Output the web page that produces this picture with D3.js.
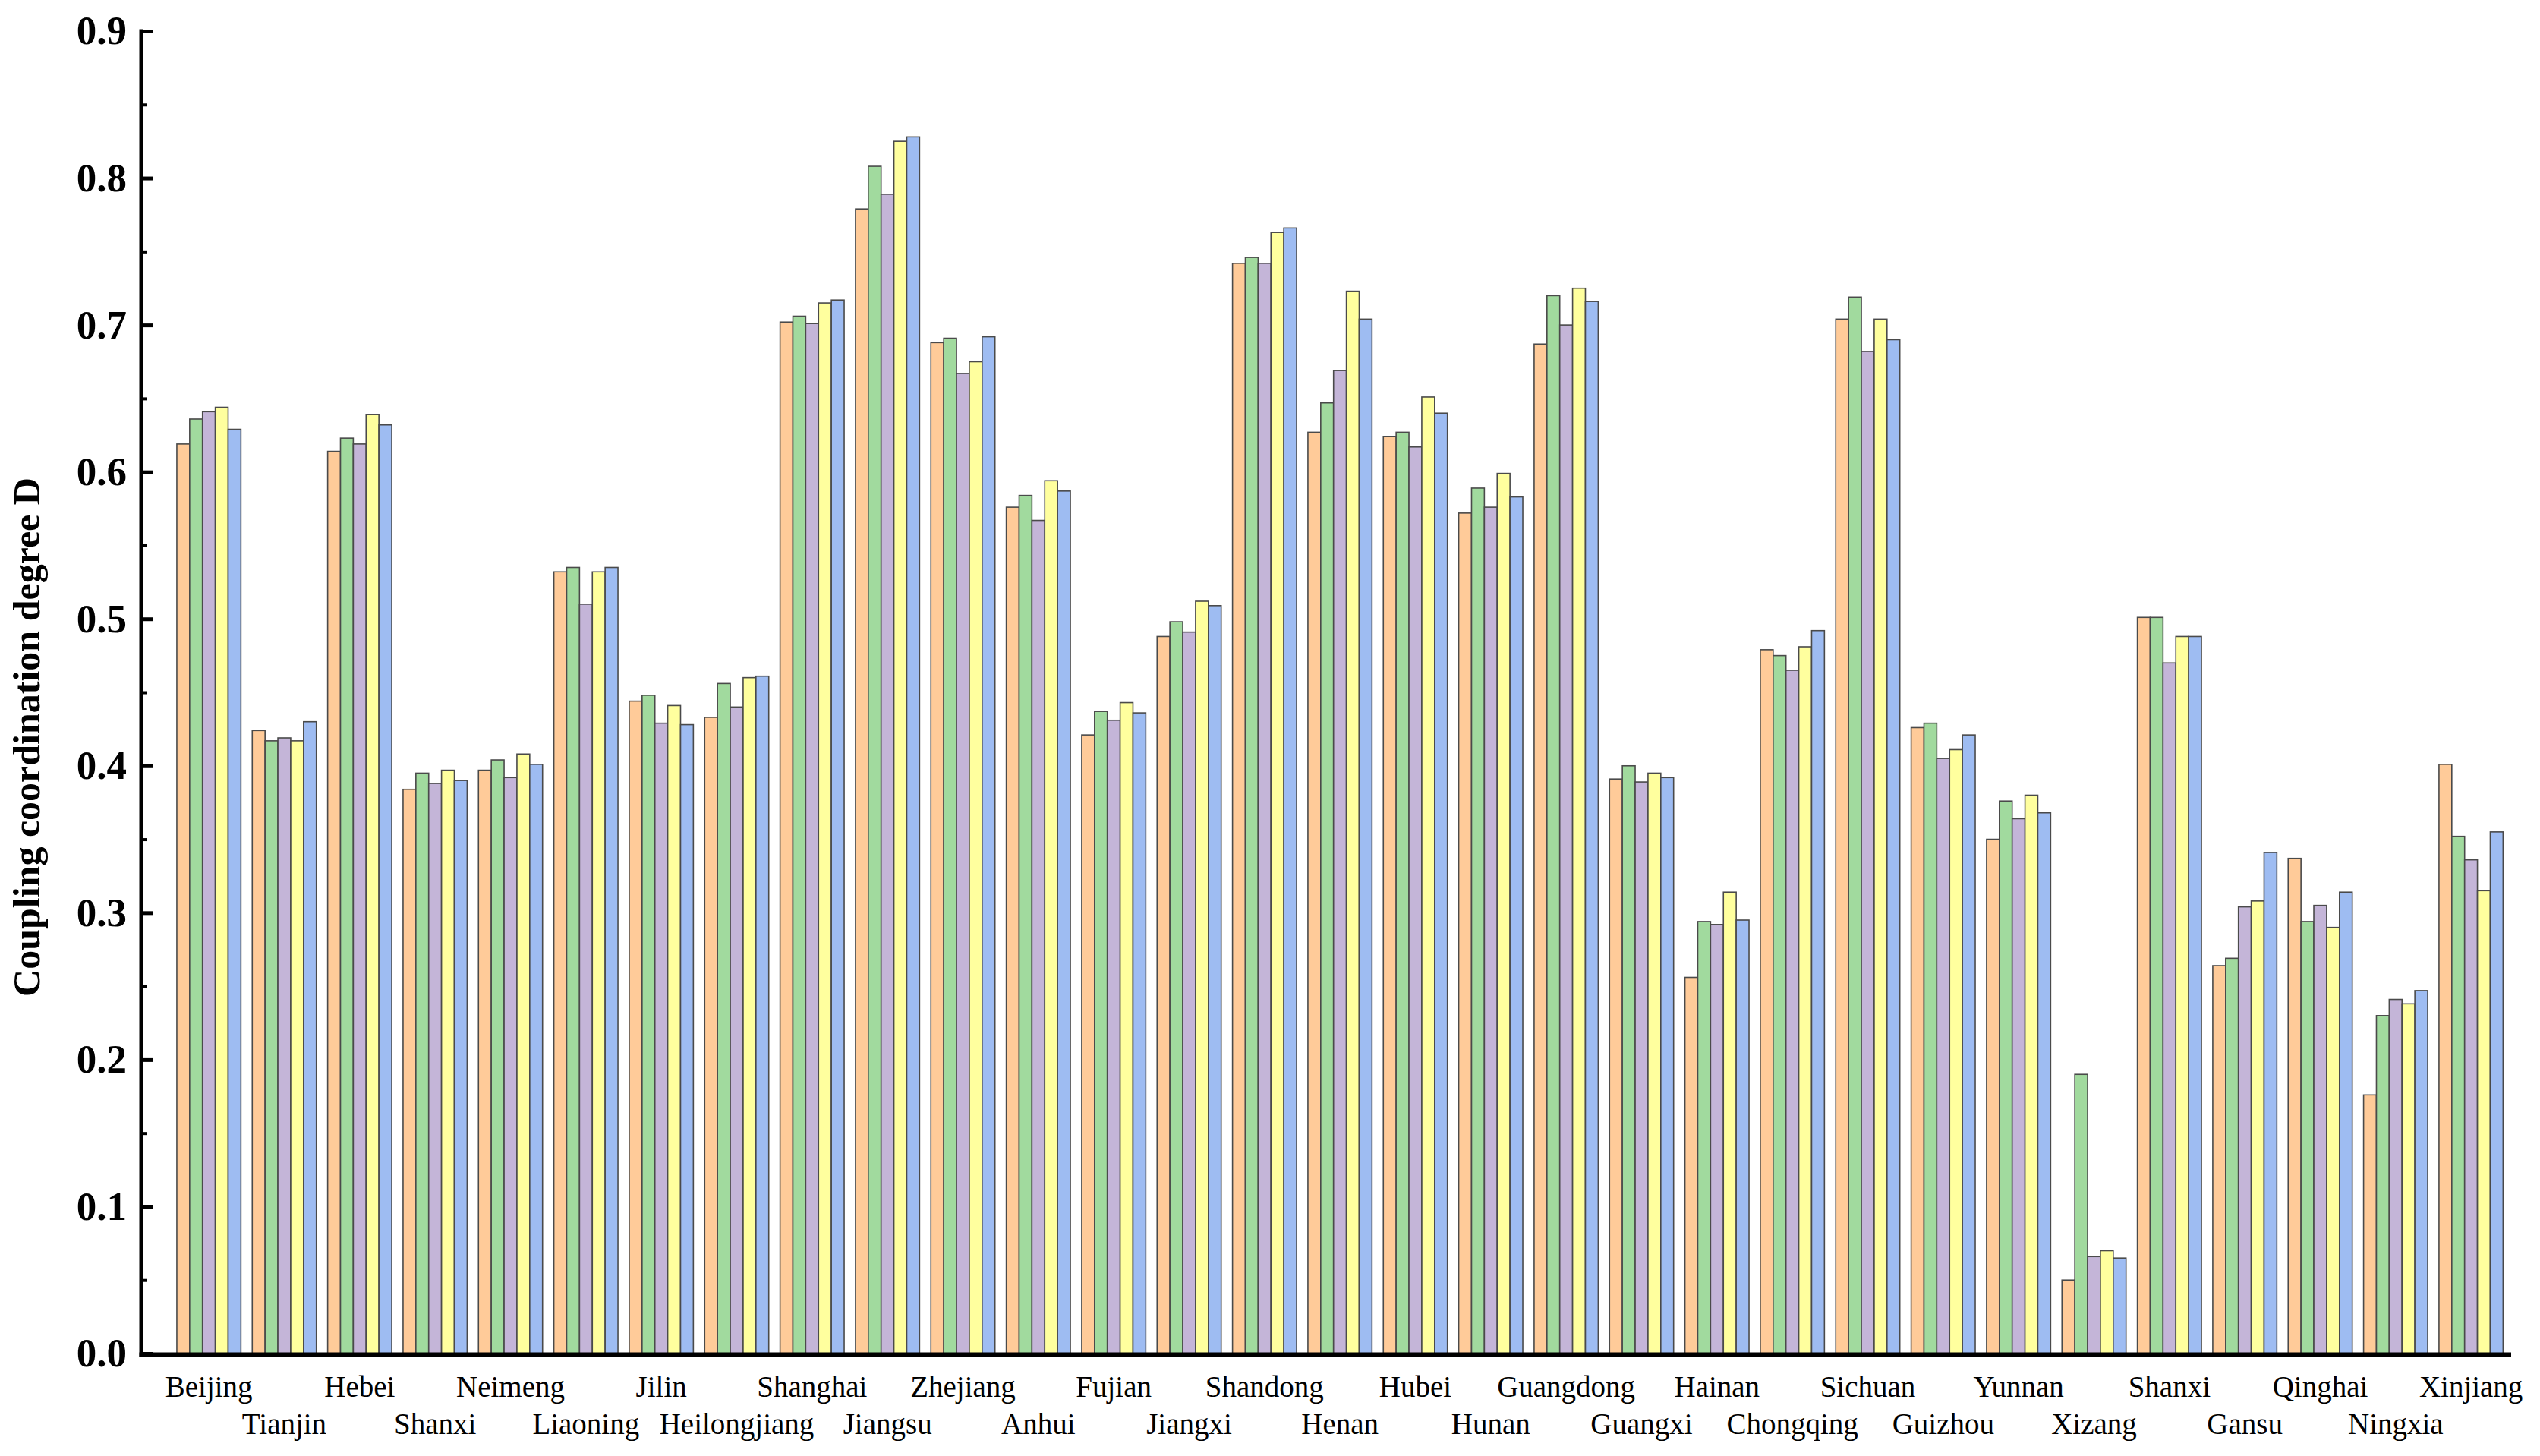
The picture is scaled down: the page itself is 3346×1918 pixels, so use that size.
<!DOCTYPE html>
<html>
<head>
<meta charset="utf-8">
<script src="https://cdn.jsdelivr.net/npm/d3@7"></script>
<style>
  html, body { margin: 0; padding: 0; background: #ffffff; }
  svg { display: block; }
</style>
</head>
<body>
<svg id="chart" width="3346" height="1918"></svg>
<script>
// ---------------- DATA ----------------
const provinces = ["Beijing","Tianjin","Hebei","Shanxi","Neimeng","Liaoning","Jilin","Heilongjiang",
  "Shanghai","Jiangsu","Zhejiang","Anhui","Fujian","Jiangxi","Shandong","Henan","Hubei","Hunan",
  "Guangdong","Guangxi","Hainan","Chongqing","Sichuan","Guizhou","Yunnan","Xizang","Shanxi",
  "Gansu","Qinghai","Ningxia","Xinjiang"];

const seriesNames = ["S1","S2","S3","S4","S5"];

const series1 = [0.619,0.424,0.614,0.384,0.397,0.532,0.444,0.433,0.702,0.779,0.688,0.576,0.421,0.488,0.742,0.627,0.624,0.572,0.687,0.391,0.256,0.479,0.704,0.426,0.350,0.050,0.501,0.264,0.337,0.176,0.401];
const series2 = [0.636,0.417,0.623,0.395,0.404,0.535,0.448,0.456,0.706,0.808,0.691,0.584,0.437,0.498,0.746,0.647,0.627,0.589,0.720,0.400,0.294,0.475,0.719,0.429,0.376,0.190,0.501,0.269,0.294,0.230,0.352];
const series3 = [0.641,0.419,0.619,0.388,0.392,0.510,0.429,0.440,0.701,0.789,0.667,0.567,0.431,0.491,0.742,0.669,0.617,0.576,0.700,0.389,0.292,0.465,0.682,0.405,0.364,0.066,0.470,0.304,0.305,0.241,0.336];
const series4 = [0.644,0.417,0.639,0.397,0.408,0.532,0.441,0.460,0.715,0.825,0.675,0.594,0.443,0.512,0.763,0.723,0.651,0.599,0.725,0.395,0.314,0.481,0.704,0.411,0.380,0.070,0.488,0.308,0.290,0.238,0.315];
const series5 = [0.629,0.430,0.632,0.390,0.401,0.535,0.428,0.461,0.717,0.828,0.692,0.587,0.436,0.509,0.766,0.704,0.640,0.583,0.716,0.392,0.295,0.492,0.690,0.421,0.368,0.065,0.488,0.341,0.314,0.247,0.355];

const yTickValues = [0.0,0.1,0.2,0.3,0.4,0.5,0.6,0.7,0.8,0.9];
const yMinorTickValues = [0.05,0.15,0.25,0.35,0.45,0.55,0.65,0.75,0.85];
const yTitle = "Coupling coordination degree D";

// ---------------- STYLE / LAYOUT ----------------
const colors = ["#FFCB99","#A1DA9E","#C4B5D8","#FFFF9E","#9EBCF2"];
const allSeries = [series1, series2, series3, series4, series5];

const svg = d3.select("#chart");
const axisX0 = 186, axisX1 = 3308;
const baseY = 1783, topY = 41;

const y = d3.scaleLinear().domain([0, 0.9]).range([baseY, topY]);

const x0 = d3.scaleBand()
  .domain(d3.range(provinces.length))
  .range([225.5, 3304.8])
  .paddingInner(0.15)
  .paddingOuter(0.075);

const x1 = d3.scaleBand()
  .domain(d3.range(seriesNames.length))
  .range([0, x0.bandwidth()])
  .padding(0);

// ---------------- BARS ----------------
const groups = svg.append("g").selectAll("g.grp")
  .data(provinces.map((p, i) => ({ name: p, idx: i })))
  .join("g")
  .attr("class", "grp")
  .attr("transform", d => `translate(${x0(d.idx)},0)`);

groups.selectAll("rect")
  .data(d => allSeries.map((s, k) => ({ k, v: s[d.idx] })))
  .join("rect")
  .attr("x", d => x1(d.k))
  .attr("width", x1.bandwidth())
  .attr("y", d => y(d.v))
  .attr("height", d => baseY - y(d.v))
  .attr("fill", d => colors[d.k])
  .attr("stroke", "#4a4a4a")
  .attr("stroke-width", 1.6);

// ---------------- Y AXIS ----------------
const yAxisMinor = d3.axisLeft(y).tickValues(yMinorTickValues).tickSize(-7).tickFormat("");
const gMinor = svg.append("g").attr("transform", `translate(${axisX0},0)`).call(yAxisMinor);
gMinor.select(".domain").remove();
gMinor.selectAll(".tick line").attr("stroke", "#000").attr("stroke-width", 4);

const yAxis = d3.axisLeft(y).tickValues(yTickValues).tickSize(-15).tickPadding(19)
  .tickFormat(d3.format(".1f"));
const gY = svg.append("g").attr("transform", `translate(${axisX0},0)`).call(yAxis);
gY.select(".domain").remove();
gY.selectAll(".tick line").attr("stroke", "#000").attr("stroke-width", 5);
gY.selectAll(".tick text")
  .attr("fill", "#000")
  .style("font-family", "'Liberation Serif', 'Times New Roman', serif")
  .style("font-weight", "bold")
  .style("font-size", "53px");

// axis lines
svg.append("line")
  .attr("x1", axisX0).attr("x2", axisX0)
  .attr("y1", topY - 2.5).attr("y2", baseY + 4)
  .attr("stroke", "#000").attr("stroke-width", 5);
svg.append("line")
  .attr("x1", axisX0 - 2.5).attr("x2", axisX1)
  .attr("y1", baseY + 1.5).attr("y2", baseY + 1.5)
  .attr("stroke", "#000").attr("stroke-width", 6);

// ---------------- X LABELS (staggered) ----------------
svg.append("g").selectAll("text")
  .data(provinces.map((p, i) => ({ name: p, idx: i })))
  .join("text")
  .attr("x", d => x0(d.idx) + x0.bandwidth() / 2)
  .attr("y", d => d.idx % 2 === 0 ? 1840 : 1889)
  .attr("text-anchor", "middle")
  .style("font-family", "'Liberation Serif', 'Times New Roman', serif")
  .style("font-size", "39px")
  .attr("fill", "#000")
  .text(d => d.name);

// ---------------- Y TITLE ----------------
svg.append("text")
  .attr("transform", `translate(52, 971) rotate(-90)`)
  .attr("text-anchor", "middle")
  .style("font-family", "'Liberation Serif', 'Times New Roman', serif")
  .style("font-weight", "bold")
  .style("font-size", "50px")
  .attr("fill", "#000")
  .text(yTitle);
</script>
</body>
</html>
